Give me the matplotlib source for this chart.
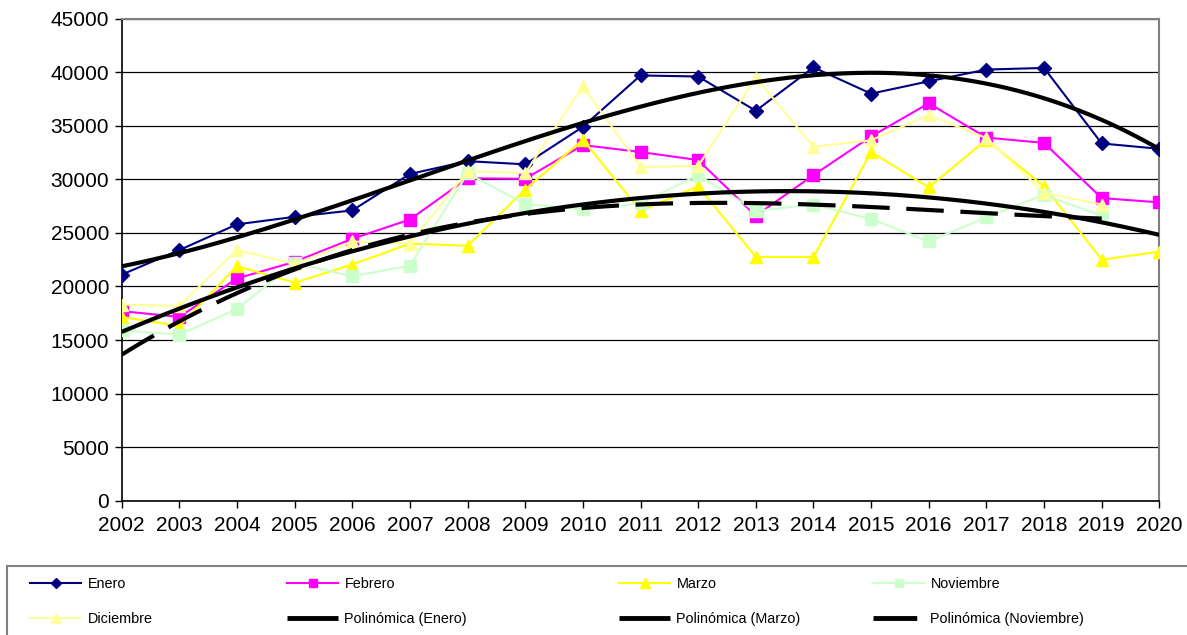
import matplotlib
matplotlib.use("Agg")
import matplotlib.pyplot as plt
import numpy as np
from matplotlib.patches import Rectangle

plt.rcParams["font.family"] = ["Liberation Sans", "DejaVu Sans"]

years = list(range(2002, 2021))
enero = [21100, 23400, 25800, 26500, 27100, 30500, 31700, 31400, 34900, 39700,
         39600, 36400, 40450, 38000, 39150, 40250, 40400, 33350, 32850]
febrero = [17700, 17150, 20750, 22300, 24450, 26250, 30100, 30050, 33200, 32550,
           31800, 26600, 30400, 34000, 37100, 33900, 33400, 28250, 27850]
marzo = [17150, 16300, 21900, 20350, 22050, 24000, 23800, 29050, 33700, 27050,
         29350, 22750, 22750, 32550, 29250, 33700, 29350, 22500, 23250]
noviembre = [15900, 15500, 17900, 22200, 20950, 21950, 30550, 27700, 27200, 27750,
             30400, 27050, 27650, 26300, 24200, 26450, 28550, 26600]
diciembre = [18300, 18200, 23400, 22100, 24200, 24000, 30750, 30600, 38700, 31150,
             31250, 39500, 33050, 33650, 36000, 33850, 28750, 27650]

NAVY = "#000080"
MAGENTA = "#FF00FF"
YELLOW = "#FFFF00"
LGREEN = "#CCFFCC"
LYELLOW = "#FFFF99"

fig = plt.figure(figsize=(11.87, 6.35), dpi=100)
ax = fig.add_axes([0.1025, 0.2115, 0.8742, 0.7591])

series = [
    ("Enero", enero, NAVY, "D", 7),
    ("Febrero", febrero, MAGENTA, "s", 8.5),
    ("Marzo", marzo, YELLOW, "^", 9),
    ("Noviembre", noviembre, LGREEN, "s", 8.5),
    ("Diciembre", diciembre, LYELLOW, "^", 9),
]
handles = {}
for name, vals, col, mk, ms in series:
    (h,) = ax.plot(years[:len(vals)], vals, color=col, marker=mk, ms=ms,
                   lw=1.5, mec=col, mfc=col, label=name, zorder=3)
    handles[name] = h


def trend(vals, order, ls):
    # polynomial trendline fitted on the series itself
    x = np.arange(1, len(vals) + 1)
    coef = np.polyfit(x, vals, order)
    xs = np.linspace(1, len(vals), 300)
    (h,) = ax.plot(xs + years[0] - 1, np.polyval(coef, xs), color="black",
                   lw=3, ls=ls, zorder=4, solid_capstyle="butt", dash_capstyle="butt")
    return h


handles["Polinómica (Enero)"] = trend(enero, 3, "-")
handles["Polinómica (Marzo)"] = trend(marzo, 2, "-")
handles["Polinómica (Noviembre)"] = trend(noviembre, 3, (0, (9, 4)))

ax.set_xlim(2002, 2020)
ax.set_ylim(0, 45000)
ax.set_xticks(years)
ax.set_yticks(range(0, 45001, 5000))
ax.grid(axis="y", color="black", lw=0.9)
ax.set_axisbelow(True)
ax.tick_params(axis="both", direction="out", length=5, width=1, labelsize=15, colors="black")
ax.tick_params(axis="x", pad=6)
ax.tick_params(axis="y", pad=4)
for s in ["left", "bottom"]:
    ax.spines[s].set_color("black")
    ax.spines[s].set_linewidth(1.2)
for s in ["top", "right"]:
    ax.spines[s].set_color("#808080")
    ax.spines[s].set_linewidth(1.5)

# legend frame
fig.patches.append(Rectangle((7 / 1187, -0.02), 1.05, 0.02 + 69 / 635,
                             transform=fig.transFigure, fill=False,
                             edgecolor="#808080", lw=1.5))

cols = [
    (30, ["Enero", "Diciembre"]),
    (287, ["Febrero", "Polinómica (Enero)"]),
    (619, ["Marzo", "Polinómica (Marzo)"]),
    (873, ["Noviembre", "Polinómica (Noviembre)"]),
]
for x0, names in cols:
    leg = fig.legend([handles[n] for n in names], names, loc="upper left",
                     bbox_to_anchor=(x0 / 1187, (635 - 577) / 635),
                     frameon=False, fontsize=10.4, borderpad=0, borderaxespad=0,
                     handlelength=3.55, handletextpad=0.43, labelspacing=1.45,
                     markerscale=0.75)
    for line in leg.get_lines():
        if line.get_linewidth() >= 3:
            line.set_linewidth(3.5)

fig.savefig("out.png", dpi=100)
